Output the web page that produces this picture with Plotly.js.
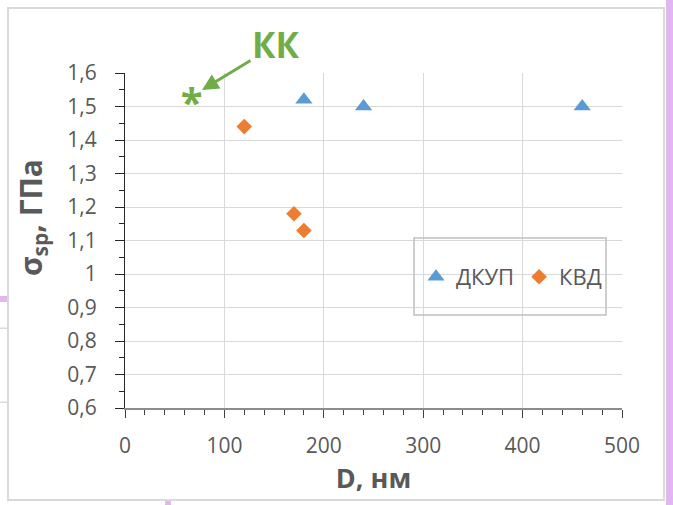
<!DOCTYPE html>
<html>
<head>
<meta charset="utf-8">
<script src="https://cdn.plot.ly/plotly-3.0.1.min.js"></script>
<style>html,body{margin:0;padding:0;background:#fff;}#chart{width:673px;height:505px;}</style>
</head>
<body>
<div id="chart"></div>
<script>
// ---- data ----
const seriesNames = ['ДКУП', 'КВД'];
const dkupD = [180, 240, 460];
const dkupS = [1.52, 1.50, 1.50];
const kvdD = [120, 170, 180];
const kvdS = [1.44, 1.18, 1.13];
const kkD = [67];
const kkS = [1.50];
const kkLabel = 'КК';
const xTitle = 'D, нм';
const yTitle = 'σ<sub>sp</sub>, ГПа';

// ---- layout helpers (pixel -> paper) ----
const W = 673, H = 505, ML = 125, MR = 51, MT = 73, MB = 97;
const PW = W - ML - MR, PH = H - MT - MB;
const px = x => (x - ML) / PW;
const py = y => (H - MB - y) / PH;
function rect(x0, y0, x1, y1, line, fill) {
  return {type: 'rect', xref: 'paper', yref: 'paper', x0: px(x0), x1: px(x1), y0: py(y1), y1: py(y0),
          line: line, fillcolor: fill || 'rgba(0,0,0,0)', layer: 'above'};
}

const FONT = 'Open Sans, DejaVu Sans, sans-serif';
const GREY = '#595959';
const GREEN = '#70ad47';

const traces = [
  {x: dkupD, y: dkupS, name: seriesNames[0], mode: 'markers', type: 'scatter',
   marker: {symbol: 'triangle-up', size: 15, color: '#5b9bd5'}},
  {x: kvdD, y: kvdS, name: seriesNames[1], mode: 'markers', type: 'scatter',
   marker: {symbol: 'diamond', size: 12, color: '#ed7d31'}},
  {x: kkD, y: kkS, mode: 'text', type: 'scatter', text: ['<b>*</b>'], showlegend: false,
   textposition: 'middle center', textfont: {family: FONT, size: 40, color: GREEN}}
];

const layout = {
  width: W, height: H,
  margin: {l: ML, r: MR, t: MT, b: MB, pad: 0},
  paper_bgcolor: '#ffffff', plot_bgcolor: '#ffffff',
  separators: ', ',
  showlegend: true,
  xaxis: {
    range: [0, 500], tick0: 0, dtick: 100, zeroline: false,
    showgrid: true, gridcolor: '#d9d9d9', gridwidth: 1,
    ticks: 'outside', ticklen: 8, tickwidth: 1, tickcolor: '#404040',
    showline: true, linecolor: '#8c8c8c', linewidth: 2,
    minor: {ticks: 'outside', dtick: 20, ticklen: 5, tickwidth: 1, tickcolor: '#404040', showgrid: false},
    tickfont: {family: FONT, size: 21, color: GREY},
    ticklabelstandoff: 10,
    automargin: false,
    title: {text: '<b>' + xTitle + '</b>', font: {family: FONT, size: 27, color: GREY}, standoff: 10}
  },
  yaxis: {
    range: [0.6, 1.6], tick0: 0.6, dtick: 0.1, zeroline: false,
    showgrid: true, gridcolor: '#d9d9d9', gridwidth: 1,
    ticks: 'outside', ticklen: 9, tickwidth: 1, tickcolor: '#262626',
    showline: true, linecolor: '#262626', linewidth: 1,
    minor: {ticks: 'outside', dtick: 0.05, ticklen: 5, tickwidth: 1, tickcolor: '#262626', showgrid: false},
    tickfont: {family: FONT, size: 21, color: GREY},
    ticklabelstandoff: 14,
    automargin: false
  },
  legend: {
    orientation: 'h', x: px(416), y: py(277), xanchor: 'left', yanchor: 'middle',
    bgcolor: 'rgba(0,0,0,0)', borderwidth: 0,
    font: {family: FONT, size: 22, color: GREY}
  },
  annotations: [
    {xref: 'paper', yref: 'paper', x: px(32), y: py(218), text: '<b>' + yTitle + '</b>',
     textangle: -90, showarrow: false, xanchor: 'center', yanchor: 'middle',
     font: {family: FONT, size: 30, color: GREY}},
    {xref: 'paper', yref: 'paper', x: px(202), y: py(90), text: '<b>' + kkLabel + '</b>',
     showarrow: true, ax: 74, ay: -45, arrowhead: 2, arrowsize: 1.1, arrowwidth: 3,
     arrowcolor: GREEN, standoff: 0,
     font: {family: FONT, size: 35, color: GREEN}}
  ],
  shapes: [
    rect(8, 8, 664, 500, {color: '#d9d9d9', width: 2}),
    rect(414, 238, 606, 315, {color: '#c0c0c0', width: 1.5}),
    rect(666, -1, 674, 506, {width: 0}, '#e2b6ef'),
    rect(-1, 296, 7, 302, {width: 0}, '#e2b6ef'),
    rect(165, 501, 171, 506, {width: 0}, '#e2b6ef'),
    rect(-1, 328, 7, 328.5, {color: '#d9d9d9', width: 1}),
    rect(-1, 402, 7, 402.5, {color: '#d9d9d9', width: 1})
  ]
};

Plotly.newPlot('chart', traces, layout, {displayModeBar: false, staticPlot: true});
</script>
</body>
</html>
